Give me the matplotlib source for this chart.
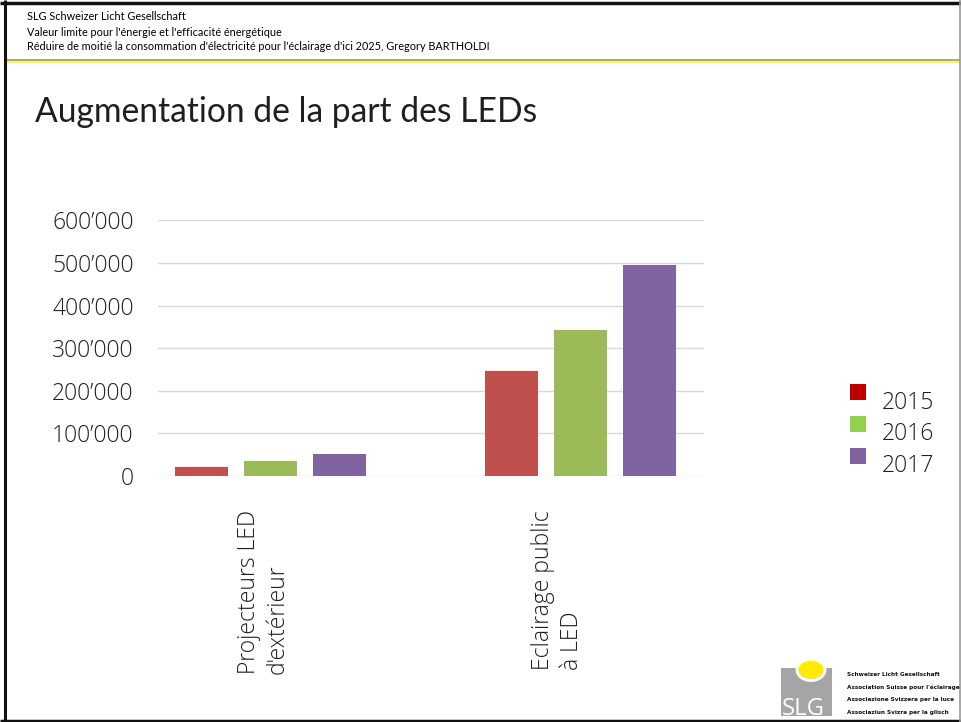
import matplotlib
matplotlib.use("Agg")
import matplotlib.pyplot as plt
from matplotlib.patches import Rectangle, Circle
from matplotlib.lines import Line2D
from matplotlib.ticker import FuncFormatter

# ---------------- data ----------------
categories = ["Projecteurs LED\nd'extérieur", "Eclairage public\nà LED"]
years = ["2015", "2016", "2017"]
values_2015 = [21000, 246000]
values_2016 = [35000, 342000]
values_2017 = [51000, 495000]
series = [values_2015, values_2016, values_2017]
y_ticks = [0, 100000, 200000, 300000, 400000, 500000, 600000]

header_lines = ["SLG Schweizer Licht Gesellschaft",
                "Valeur limite pour l'énergie et l'efficacité énergétique",
                "Réduire de moitié la consommation d'électricité pour l'éclairage d'ici 2025, Gregory BARTHOLDI"]
title = "Augmentation de la part des LEDs"
logo_lines = ["Schweizer Licht Gesellschaft", "Association Suisse pour l'éclairage",
              "Associazione Svizzera per la luce", "Associaziun Svizra per la glisch"]

# ---------------- style ----------------
bar_colors = ["#C0504D", "#9BBB59", "#8064A2"]
legend_colors = ["#C00000", "#92D050", "#8064A2"]
TXT = "#1f1f1f"
LIGHT = "light"
W, H = 961, 722
fig = plt.figure(figsize=(W / 100, H / 100), dpi=100)
fig.patch.set_facecolor("white")

def X(px):
    return px / W

def Y(py):
    return 1 - py / H

renderer = fig.canvas.get_renderer()

def fit_width(t, target, vertical=False):
    for _ in range(3):
        bb = t.get_window_extent(renderer)
        cur = bb.height if vertical else bb.width
        t.set_fontsize(t.get_fontsize() * target / cur)
    return t.get_fontsize()

# ---------------- axes ----------------
ax = fig.add_axes([X(158), Y(476), X(704) - X(158), Y(220.4) - Y(476)])
bw = 0.171
step = 0.223
for j, (vals, c) in enumerate(zip(series, bar_colors)):
    xs = [i + (j - 1) * step for i in range(len(categories))]
    ax.bar(xs, vals, width=bw, color=c, edgecolor="none", zorder=3)

ax.set_xlim(-0.364, 1.40)
ax.set_ylim(0, 600000)
ax.set_yticks(y_ticks)
ax.yaxis.set_major_formatter(FuncFormatter(lambda v, p: f"{int(v):,}".replace(",", "\u2019")))
ax.grid(axis="y", color="#D9D9D9", linewidth=1.0, zorder=0)
ax.set_axisbelow(True)
for s in ax.spines.values():
    s.set_visible(False)
ax.tick_params(axis="y", length=0, pad=17.6, labelsize=16.5, labelcolor=TXT)
for lab in ax.get_yticklabels():
    lab.set_fontfamily("Open Sans")
    lab.set_fontweight(LIGHT)

label_pos = [-0.025, 0.926]
ax.set_xticks(label_pos)
ax.set_xticklabels(categories, rotation=90, fontsize=16.5, color=TXT, fontweight=LIGHT,
                   fontfamily="Open Sans", multialignment="left", linespacing=1.25)
ax.tick_params(axis="x", length=0, pad=24.5)

# ---------------- legend ----------------
sq_tops = [384, 416, 448]
txt_centers = [403, 434.5, 466]
for c, yr, top, tc in zip(legend_colors, years, sq_tops, txt_centers):
    fig.add_artist(Rectangle((X(850), Y(top + 16)), X(16), 16 / H, transform=fig.transFigure,
                             facecolor=c, edgecolor="none"))
    fig.text(X(882), Y(tc), yr, fontsize=16.5, color=TXT, family="Open Sans",
             weight=LIGHT, ha="left", va="center")

# ---------------- header & frame ----------------
hdr = []
for s, base in zip(header_lines, [20, 36.5, 50.5]):
    hdr.append(fig.text(X(27), Y(base), s, fontsize=7, color="black", family="Lato",
                        ha="left", va="baseline"))
fs = fit_width(hdr[2], 466)
for t in hdr[:2]:
    t.set_fontsize(fs)

tt = fig.text(X(35), Y(122), title, fontsize=26, color=TXT, family="Lato",
              ha="left", va="baseline")
fit_width(tt, 502)

def hline(y, x0, x1, color, lw):
    fig.add_artist(Line2D([X(x0), X(x1)], [Y(y), Y(y)], transform=fig.transFigure,
                          color=color, linewidth=lw, solid_capstyle="butt"))

def vline(x, y0, y1, color, lw):
    fig.add_artist(Line2D([X(x), X(x)], [Y(y0), Y(y1)], transform=fig.transFigure,
                          color=color, linewidth=lw, solid_capstyle="butt"))

hline(60, 6, 960, "#A6A6A6", 1.5)
hline(62.2, 6, 960, "#FFFF00", 1.2)
hline(3, 0, 961, "#111111", 2.5)
hline(720.5, 0, 961, "#111111", 2.5)
vline(4.6, 0, 722, "#111111", 2.2)
vline(960, 0, 722, "#9A9A9A", 1.2)

# ---------------- logo ----------------
fig.add_artist(Rectangle((X(781), Y(716)), X(51), 48 / H, transform=fig.transFigure,
                         facecolor="#A5A5A5", edgecolor="none"))
fig.add_artist(Circle((X(811), Y(670)), X(14), transform=fig.transFigure,
                      facecolor="#FFEB00", edgecolor="white", linewidth=2))
slg = fig.text(X(782), Y(715), "SLG", fontsize=13, color="white", family="Open Sans",
               ha="left", va="baseline")
fit_width(slg, 43)
lt = []
for s, yc in zip(logo_lines, [674.3, 687.3, 700, 712.7]):
    lt.append(fig.text(X(847), Y(yc), s, fontsize=5, color="#111111", family="DejaVu Sans",
                       weight="bold", ha="left", va="center"))
fs = fit_width(lt[1], 113)
for t in lt:
    t.set_fontsize(fs)

fig.savefig("out.png", dpi=100, facecolor="white")
